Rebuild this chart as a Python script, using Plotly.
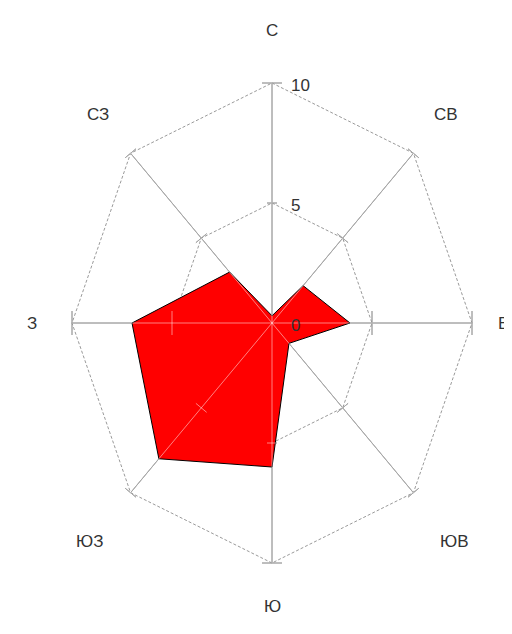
import numpy as np
import plotly.graph_objects as go

# ---- data ----
directions = ["С", "СВ", "В", "ЮВ", "Ю", "ЮЗ", "З", "СЗ"]
frequency = [0.3, 2.2, 3.9, 1.2, 6.0, 8.0, 7.0, 3.0]
ring_values = [5, 10]
tick_values = [0, 5, 10]
tick_labels = ["0", "5", "10"]

# ---- layout constants (pixels) ----
PAGE_OFF = 8               # default body margin of the html page
W, H = 512 - PAGE_OFF, 634 - PAGE_OFF
CX, CY = 272 - PAGE_OFF, 323 - PAGE_OFF   # centre of the rose inside the figure
SX, SY = 20.0, 24.0        # pixels per unit, horizontal / vertical
label_r = [12.2, 12.3, 11.55, 12.9, 11.8, 12.9, 12.0, 12.3]
tick_half_px = [5, 7, 12, 7, 5, 7, 12, 7]   # per spoke, at r=5
cap_half_px = [10, 7, 12, 7, 10, 7, 12, 7]  # per spoke, at r=10

angles = np.deg2rad(np.arange(len(directions)) * 360.0 / len(directions))


def to_xy(r, a):
    return r * np.sin(a), r * np.cos(a)


def perp(a, half_px, r):
    # perpendicular segment in pixel space, converted to data units
    dx, dy = SX * np.sin(a), SY * np.cos(a)
    n = np.hypot(dx, dy)
    px, py = -dy / n, dx / n
    x0, y0 = to_xy(r, a)
    return ([x0 - half_px * px / SX, x0 + half_px * px / SX],
            [y0 - half_px * py / SY, y0 + half_px * py / SY])


# spokes + ticks geometry
sx_, sy_ = [], []
for i, a in enumerate(angles):
    x1, y1 = to_xy(ring_values[-1], a)
    sx_ += [0, x1, None]
    sy_ += [0, y1, None]
    for r, hp in ((ring_values[0], tick_half_px[i]), (ring_values[-1], cap_half_px[i])):
        tx, ty = perp(a, hp, r)
        sx_ += tx + [None]
        sy_ += ty + [None]

fig = go.Figure()

# rings (under the polygon)
for rv in ring_values:
    rx, ry = to_xy(rv, np.append(angles, angles[0]))
    fig.add_trace(go.Scatter(x=rx, y=ry, mode="lines",
                             line=dict(color="#9a9a9a", width=1, dash="3px,2px"),
                             hoverinfo="skip", showlegend=False))

# dark spokes under polygon
fig.add_trace(go.Scatter(x=sx_, y=sy_, mode="lines",
                         line=dict(color="#505050", width=1),
                         hoverinfo="skip", showlegend=False))

# data polygon
fv = np.array(frequency + frequency[:1])
fa = np.append(angles, angles[0])
px_, py_ = to_xy(fv, fa)
fig.add_trace(go.Scatter(x=px_, y=py_, mode="lines", fill="toself",
                         fillcolor="#ff0000",
                         line=dict(color="#000000", width=1),
                         showlegend=False,
                         text=directions + directions[:1],
                         hovertemplate="%{text}: %{customdata}<extra></extra>",
                         customdata=list(fv)))

# light overlay spokes (grey over white, pink over red)
fig.add_trace(go.Scatter(x=sx_, y=sy_, mode="lines",
                         line=dict(color="rgba(255,255,255,0.5)", width=1),
                         hoverinfo="skip", showlegend=False))

annotations = []
for d, a, r in zip(directions, angles, label_r):
    lx, ly = to_xy(r, a)
    annotations.append(dict(x=lx, y=ly, text=d, showarrow=False,
                            xanchor="center", yanchor="middle",
                            font=dict(family="Liberation Sans", size=17, color="#333333")))
for v, t in zip(tick_values, tick_labels):
    annotations.append(dict(x=0, y=v, text=t, showarrow=False,
                            xanchor="left", yanchor="middle", xshift=17, yshift=-2,
                            font=dict(family="Liberation Sans", size=17, color="#333333")))

fig.update_layout(
    width=W, height=H,
    margin=dict(l=0, r=0, t=0, b=0),
    paper_bgcolor="white", plot_bgcolor="white",
    xaxis=dict(range=[-CX / SX, (W - CX) / SX], visible=False, fixedrange=True),
    yaxis=dict(range=[-(H - CY) / SY, CY / SY], visible=False, fixedrange=True),
    annotations=annotations,
    showlegend=False,
)

fig.write_html("out.html")
